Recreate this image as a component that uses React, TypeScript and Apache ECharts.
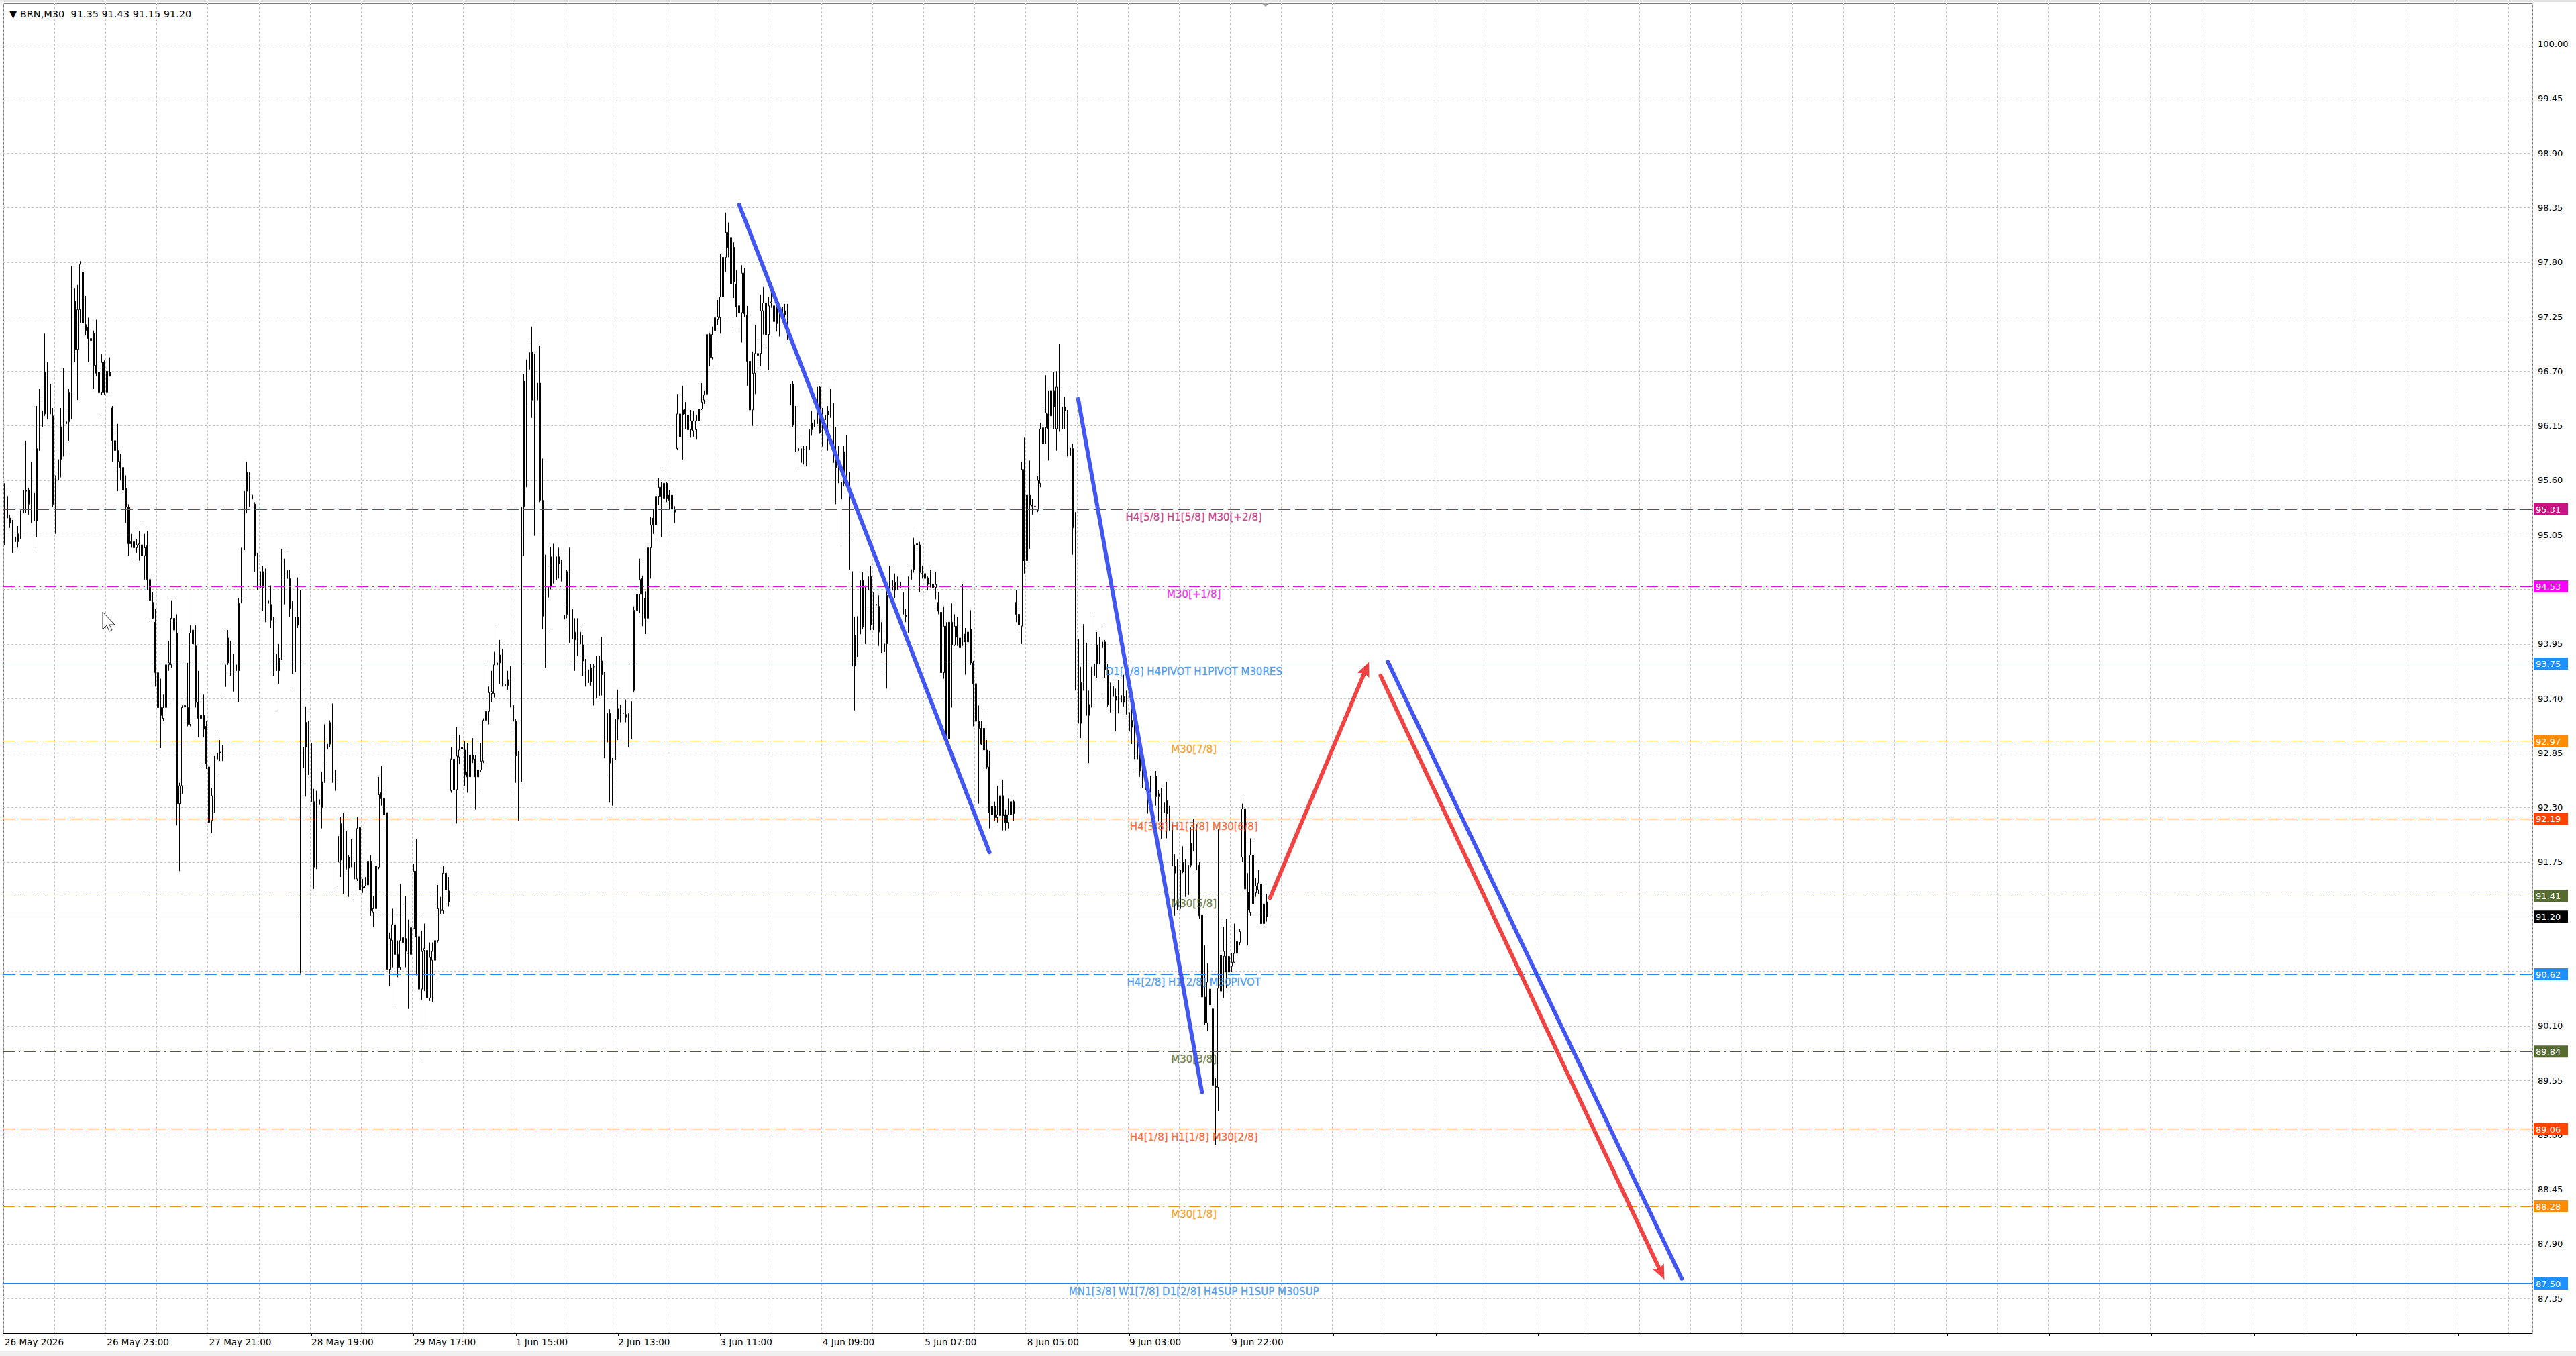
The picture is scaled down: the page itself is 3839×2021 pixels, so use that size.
import { useEffect, useRef } from 'react';
import * as echarts from 'echarts';

const FONT = 'DejaVu Sans';

// ---- header ----
const symbolName = 'BRN';
const timeframe = 'M30';
const headerOHLC = [91.35, 91.43, 91.15, 91.2];

// ---- candles [open, close, low, high], M30 bars ----
// 26 May - 27 May
const part1 = [
  [95.50, 95.05, 94.95, 95.57], [95.44, 95.22, 95.14, 95.49], [95.22, 95.17, 95.12, 95.25], [95.19, 95.03, 94.87, 95.20],
  [95.03, 94.98, 94.90, 95.06], [94.98, 95.06, 94.92, 95.14], [95.09, 95.27, 95.01, 95.30], [95.27, 95.50, 95.25, 95.60],
  [95.50, 95.49, 95.27, 96.00], [95.36, 95.50, 95.25, 95.52], [95.50, 95.36, 95.17, 95.79], [95.47, 95.19, 94.92, 95.55],
  [95.19, 95.92, 95.03, 96.35], [95.90, 96.14, 95.90, 96.52], [96.14, 96.30, 96.03, 96.41], [96.27, 96.69, 96.25, 97.08],
  [96.65, 96.54, 96.22, 96.79], [96.57, 96.27, 96.14, 96.62], [96.25, 95.36, 95.33, 96.33], [95.36, 95.63, 95.06, 95.65],
  [95.60, 95.81, 95.52, 95.92], [95.81, 96.14, 95.63, 96.33], [96.14, 96.17, 95.84, 96.73], [96.17, 96.19, 95.87, 96.30],
  [96.19, 96.49, 96.00, 96.52], [96.49, 97.41, 96.22, 97.76], [97.41, 96.92, 96.79, 97.54], [96.92, 97.32, 96.41, 97.57],
  [97.32, 97.78, 97.19, 97.81], [97.70, 97.19, 97.16, 97.76], [97.17, 97.11, 97.06, 97.46], [97.14, 97.03, 96.79, 97.24],
  [97.03, 97.01, 96.97, 97.19], [97.08, 96.76, 96.52, 97.11], [96.76, 96.68, 96.65, 97.22], [96.69, 96.49, 96.25, 96.73],
  [96.49, 96.79, 96.46, 96.87], [96.79, 96.49, 96.46, 96.81], [96.49, 96.70, 96.19, 96.73], [96.69, 96.65, 96.65, 96.84],
  [96.33, 96.00, 95.79, 96.35], [96.00, 95.90, 95.71, 96.08], [95.90, 95.79, 95.49, 96.17], [95.79, 95.73, 95.60, 95.87],
  [95.73, 95.50, 95.49, 95.76], [95.52, 95.33, 95.17, 95.65], [95.33, 94.96, 94.84, 95.36], [94.98, 94.96, 94.92, 95.06],
  [94.98, 94.92, 94.79, 95.03], [94.92, 94.95, 94.87, 95.01], [94.95, 94.96, 94.79, 95.09], [94.95, 94.84, 94.82, 95.19],
  [94.84, 94.92, 94.60, 95.06], [94.94, 94.60, 94.49, 95.09], [94.60, 94.39, 94.17, 94.63], [94.37, 94.21, 94.20, 94.47],
  [94.17, 93.66, 93.52, 94.30], [93.66, 93.31, 92.79, 93.87], [93.31, 93.23, 92.90, 93.60], [93.20, 93.31, 93.17, 93.44],
  [93.31, 93.74, 93.28, 93.76], [93.74, 93.76, 93.68, 93.98], [93.74, 94.21, 93.71, 94.39], [94.09, 94.21, 93.98, 94.41],
  [94.06, 92.34, 92.12, 94.25], [92.34, 92.52, 91.66, 92.55], [92.52, 93.31, 92.44, 93.33], [93.32, 93.33, 93.17, 93.41],
  [93.31, 93.14, 93.12, 93.76], [93.14, 94.06, 93.12, 94.14], [94.09, 93.95, 93.90, 94.52], [93.93, 93.36, 93.31, 94.14],
  [93.36, 93.20, 93.01, 93.68], [93.23, 93.20, 92.71, 93.36], [93.23, 93.09, 93.01, 93.44], [93.12, 92.74, 92.69, 93.17],
  [92.71, 92.15, 92.01, 92.79], [92.17, 92.42, 92.04, 92.50], [92.39, 92.79, 92.25, 92.82], [92.79, 92.85, 92.63, 93.04],
  [92.85, 92.86, 92.77, 92.98], [92.87, 92.89, 92.77, 92.93],
];
// 28 May - 29 May
const part2 = [
  [93.52, 93.74, 93.41, 94.09], [94.01, 93.76, 93.74, 94.09], [93.95, 93.66, 93.63, 93.98], [93.66, 93.68, 93.47, 93.85],
  [93.68, 93.74, 93.47, 93.85], [93.68, 94.36, 93.36, 94.41], [94.39, 94.90, 94.36, 94.92], [94.90, 95.49, 94.87, 95.55],
  [95.49, 95.68, 95.27, 95.79], [95.65, 95.49, 95.33, 95.68], [95.45, 95.41, 95.33, 95.46], [95.36, 94.84, 94.68, 95.38],
  [94.84, 94.52, 94.49, 94.87], [94.68, 94.52, 94.20, 94.79], [94.52, 94.68, 94.28, 94.74], [94.68, 94.36, 94.17, 94.71],
  [94.36, 94.39, 94.25, 94.54], [94.35, 94.19, 94.11, 94.54], [94.21, 93.85, 93.63, 94.22], [93.85, 93.68, 93.28, 93.92],
  [93.68, 93.81, 93.55, 93.95], [93.81, 94.60, 93.79, 94.91], [94.60, 94.68, 94.35, 94.81], [94.69, 94.61, 94.54, 94.89],
  [94.61, 94.31, 94.22, 94.70], [94.31, 93.69, 93.65, 94.38], [93.67, 94.22, 93.49, 94.25], [94.22, 94.14, 94.11, 94.62],
  [94.11, 92.67, 90.63, 94.49], [92.70, 92.91, 92.40, 93.49], [92.91, 93.16, 92.41, 93.32], [93.14, 92.95, 92.63, 93.17],
  [92.95, 92.36, 92.01, 93.28], [92.36, 91.70, 91.48, 92.49], [91.70, 92.39, 91.68, 92.47], [92.38, 92.33, 92.25, 92.41],
  [92.30, 92.56, 92.09, 92.66], [92.56, 92.89, 92.55, 93.14], [92.89, 92.94, 92.75, 93.00], [92.94, 93.16, 92.91, 93.18],
  [93.11, 92.57, 92.55, 93.35], [92.57, 92.61, 92.47, 92.68],
  [92.01, 91.75, 91.50, 92.27], [91.77, 92.14, 91.60, 92.21], [92.09, 92.09, 91.43, 92.25], [92.06, 91.68, 91.67, 92.24],
  [91.69, 91.80, 91.40, 91.82], [91.82, 91.75, 91.70, 91.98], [91.75, 91.58, 91.37, 91.82], [91.58, 92.09, 91.56, 92.21],
  [92.10, 91.47, 91.21, 92.12], [91.50, 91.49, 91.44, 91.58], [91.49, 91.51, 91.49, 91.60], [91.52, 91.76, 91.32, 91.89],
  [91.76, 91.26, 91.21, 91.82], [91.24, 91.28, 91.10, 91.41], [91.28, 91.71, 91.19, 91.76], [91.70, 92.43, 91.68, 92.61],
  [92.45, 92.39, 92.32, 92.72], [92.39, 92.23, 92.06, 92.54], [92.25, 90.67, 90.51, 92.27], [90.67, 90.98, 90.50, 91.04],
  [90.96, 91.12, 90.69, 91.28], [91.12, 90.82, 90.31, 91.21], [90.82, 90.69, 90.59, 90.96], [90.69, 90.96, 90.66, 91.53],
  [90.94, 90.99, 90.85, 91.31], [90.98, 90.85, 90.69, 91.41], [90.83, 90.83, 90.27, 91.17], [90.82, 91.09, 90.63, 91.16],
  [91.08, 91.66, 91.08, 91.73], [91.66, 91.00, 90.61, 91.98], [91.00, 90.47, 89.77, 91.20], [90.47, 90.85, 90.36, 91.06],
  [90.86, 90.88, 90.45, 91.13], [90.86, 90.38, 90.09, 90.88], [90.38, 90.79, 90.35, 90.94], [90.76, 90.85, 90.34, 90.94],
  [90.76, 90.96, 90.58, 91.31], [90.96, 91.28, 90.94, 91.52], [91.27, 91.26, 91.23, 91.40], [91.26, 91.64, 91.23, 91.71],
  [91.64, 91.47, 91.33, 91.73], [91.46, 91.35, 91.30, 91.60],
];
// 1 Jun - 3 Jun
const part3 = [
  [92.47, 92.79, 92.45, 92.91], [92.79, 92.48, 92.13, 93.01], [92.48, 92.82, 92.14, 93.11], [92.81, 92.88, 92.74, 93.03],
  [92.89, 92.91, 92.85, 93.09], [92.88, 92.63, 92.52, 92.97], [92.66, 92.61, 92.45, 92.95], [92.61, 92.83, 92.30, 92.94],
  [92.83, 92.79, 92.75, 93.00], [92.79, 92.61, 92.28, 92.83], [92.61, 92.68, 92.45, 92.75], [92.68, 92.77, 92.66, 92.95],
  [92.77, 93.18, 92.75, 93.20], [93.18, 93.27, 93.14, 93.78], [93.27, 93.46, 93.14, 93.52], [93.45, 93.47, 93.36, 93.68],
  [93.45, 93.74, 93.41, 93.87], [93.74, 93.76, 93.68, 94.14], [93.76, 93.84, 93.55, 93.99], [93.87, 93.54, 93.52, 93.90],
  [93.54, 93.53, 93.38, 93.73], [93.53, 93.59, 93.49, 93.68], [93.60, 93.33, 93.31, 93.73], [93.33, 93.17, 93.06, 93.41],
  [93.17, 92.82, 92.55, 93.19], [92.83, 92.56, 92.17, 92.87],
  [92.56, 95.33, 92.49, 95.51], [95.33, 96.60, 94.84, 96.67], [96.62, 96.71, 95.53, 96.82], [96.72, 96.89, 96.34, 97.01],
  [96.89, 96.41, 96.23, 97.15], [96.42, 96.42, 95.04, 96.88], [96.41, 96.58, 96.15, 96.99], [96.58, 95.40, 95.38, 96.96],
  [95.40, 94.23, 94.10, 95.82], [94.23, 94.45, 93.71, 94.85], [94.42, 94.53, 94.07, 94.72], [94.53, 94.83, 94.50, 94.93],
  [94.83, 94.58, 94.56, 94.96], [94.83, 94.60, 94.53, 94.93], [94.83, 94.76, 94.61, 94.92], [94.74, 94.73, 94.58, 94.80],
  [94.20, 94.24, 94.12, 94.34], [94.25, 94.68, 94.21, 94.70], [94.69, 94.32, 93.96, 94.92], [94.30, 94.00, 93.75, 94.31],
  [94.07, 93.99, 93.68, 94.21], [94.00, 94.03, 93.83, 94.21], [94.07, 93.95, 93.82, 94.13], [93.94, 93.78, 93.63, 94.04],
  [93.78, 93.68, 93.52, 93.80], [93.69, 93.56, 93.55, 93.75], [93.57, 93.71, 93.53, 93.75], [93.72, 93.72, 93.33, 93.75],
  [93.42, 93.79, 93.40, 93.83], [93.83, 93.43, 93.40, 93.95], [93.78, 93.64, 93.43, 94.02], [93.64, 92.99, 92.80, 93.67],
  [93.25, 92.96, 92.62, 93.40], [93.25, 92.75, 92.35, 93.29], [92.79, 92.76, 92.32, 92.80], [92.78, 93.19, 92.74, 93.22],
  [93.19, 93.30, 92.98, 93.49], [93.24, 93.30, 93.16, 93.34], [93.25, 93.25, 92.94, 93.40], [93.24, 93.21, 93.16, 93.39],
  [93.21, 92.99, 92.91, 93.25], [92.99, 93.37, 92.99, 93.75], [93.48, 94.29, 93.46, 94.33], [94.29, 94.45, 94.29, 94.54],
  [94.45, 94.60, 94.26, 94.81], [94.61, 94.45, 94.13, 94.64], [94.41, 94.21, 94.05, 94.48], [94.21, 94.92, 94.20, 94.93],
  [94.92, 95.15, 94.61, 95.23], [95.22, 95.15, 95.06, 95.31], [95.15, 95.44, 95.01, 95.46], [95.44, 95.53, 95.35, 95.62],
  [95.53, 95.44, 95.03, 95.58], [95.42, 95.57, 95.39, 95.72], [95.57, 95.42, 95.38, 95.58], [95.45, 95.40, 95.31, 95.50],
  [95.45, 95.31, 95.29, 95.48], [95.30, 95.28, 95.17, 95.34],
  [95.92, 96.27, 95.91, 96.47], [96.04, 96.27, 96.01, 96.46], [96.31, 96.26, 95.81, 96.55], [96.32, 96.27, 96.12, 96.39],
  [96.26, 96.11, 96.01, 96.28], [96.11, 96.20, 96.03, 96.31], [96.10, 96.20, 96.04, 96.30], [96.11, 96.20, 96.01, 96.26],
  [96.20, 96.32, 96.19, 96.42], [96.32, 96.39, 96.31, 96.58], [96.41, 96.46, 96.37, 96.50], [96.47, 97.07, 96.42, 97.08],
  [97.07, 96.84, 96.75, 97.09], [96.84, 97.07, 96.82, 97.15], [97.11, 97.24, 96.95, 97.27], [97.22, 97.25, 97.17, 97.42],
  [97.24, 97.45, 97.08, 97.88], [97.45, 97.85, 97.42, 97.95], [97.85, 98.10, 97.70, 98.30], [98.10, 97.95, 97.85, 98.20],
  [98.05, 97.58, 97.12, 98.10], [97.95, 97.60, 97.44, 98.00], [97.58, 97.35, 97.25, 97.72], [97.36, 97.29, 97.13, 97.52],
  [97.29, 97.69, 96.99, 97.77], [97.69, 97.28, 97.25, 97.74], [97.27, 96.80, 96.55, 97.36], [96.80, 96.31, 96.28, 96.88],
  [96.31, 96.68, 96.15, 96.90], [96.68, 96.88, 96.47, 97.17], [96.86, 96.88, 96.77, 97.01], [96.88, 97.31, 96.75, 97.47],
  [97.31, 97.39, 97.07, 97.55], [97.39, 97.07, 96.96, 97.40], [97.07, 97.36, 96.71, 97.45], [97.39, 97.40, 97.34, 97.58],
  [97.20, 97.36, 97.17, 97.55], [97.36, 97.18, 97.10, 97.40], [97.18, 97.30, 97.05, 97.35], [97.35, 97.27, 97.20, 97.40],
  [97.27, 97.31, 97.22, 97.38], [97.24, 97.34, 97.02, 97.38],
];
// 4 Jun - 5 Jun
const part4 = [
  [96.36, 96.57, 96.25, 96.65], [96.57, 96.16, 96.14, 96.60], [96.21, 95.91, 95.89, 96.35], [95.92, 95.90, 95.69, 96.03],
  [95.78, 95.92, 95.76, 96.03], [95.91, 95.91, 95.76, 95.95], [95.78, 95.91, 95.74, 95.95], [95.91, 96.11, 95.88, 96.44],
  [96.11, 96.18, 96.05, 96.30], [96.18, 96.17, 96.14, 96.21], [96.17, 96.54, 96.16, 96.55], [96.54, 96.08, 96.07, 96.55],
  [96.08, 96.25, 95.94, 96.33], [96.21, 96.26, 96.03, 96.33], [96.26, 96.30, 95.90, 96.35], [96.28, 96.38, 96.23, 96.52],
  [96.38, 95.78, 95.76, 96.62], [95.81, 95.73, 95.36, 96.14], [95.73, 95.58, 95.57, 95.95], [95.58, 95.41, 94.94, 95.63],
  [95.57, 95.89, 95.54, 95.95], [95.65, 95.89, 95.63, 96.06], [95.68, 94.70, 94.56, 95.71], [94.68, 93.73, 93.68, 94.98],
  [93.73, 94.04, 93.28, 94.22], [94.04, 94.07, 93.82, 94.23], [94.05, 94.59, 93.98, 94.68], [94.59, 94.12, 94.10, 94.68],
  [94.11, 94.49, 93.95, 94.54], [94.49, 94.63, 94.28, 94.68], [94.63, 94.14, 94.09, 94.74], [94.14, 94.36, 94.09, 94.47],
  [94.35, 94.34, 94.28, 94.41], [94.33, 94.07, 93.93, 94.44], [94.07, 93.95, 93.86, 94.17], [93.87, 93.95, 93.64, 94.10],
  [93.95, 94.44, 93.50, 94.50], [94.45, 94.59, 94.41, 94.74], [94.59, 94.49, 94.44, 94.71], [94.49, 94.57, 94.41, 94.66],
  [94.57, 94.57, 94.49, 94.63], [94.57, 94.52, 94.49, 94.60], [94.47, 94.25, 94.20, 94.54], [94.24, 94.23, 94.17, 94.30],
  [94.22, 94.60, 94.06, 94.63], [94.60, 94.70, 94.52, 94.72], [94.70, 94.95, 94.67, 95.02], [94.95, 94.96, 94.91, 95.10],
  [94.95, 94.67, 94.47, 94.98], [94.66, 94.66, 94.61, 94.74], [94.61, 94.66, 94.45, 94.68], [94.61, 94.55, 94.49, 94.63],
  [94.56, 94.56, 94.52, 94.70], [94.55, 94.52, 94.49, 94.74], [94.52, 94.55, 94.40, 94.68], [94.37, 94.28, 94.25, 94.47],
  [94.27, 93.66, 93.64, 94.28], [93.66, 94.13, 93.60, 94.33], [94.13, 92.99, 92.98, 94.17], [92.99, 94.17, 92.98, 94.33],
  [94.17, 93.94, 93.31, 94.36], [93.94, 94.13, 93.93, 94.25], [94.13, 94.02, 93.93, 94.22], [93.91, 94.01, 93.90, 94.14],
  [94.02, 94.02, 93.93, 94.55], [94.05, 93.97, 93.64, 94.11], [93.97, 94.07, 93.93, 94.11], [94.10, 93.76, 93.74, 94.29],
  [93.76, 93.55, 93.12, 93.78], [93.55, 93.17, 93.14, 93.60], [93.17, 93.10, 92.34, 93.33], [93.10, 92.94, 92.93, 93.17],
  [93.10, 92.88, 92.86, 93.26], [92.88, 92.71, 92.69, 92.98], [92.71, 92.25, 92.09, 92.87], [92.23, 92.31, 92.00, 92.33],
  [92.31, 92.20, 92.17, 92.36], [92.20, 92.23, 92.15, 92.52], [92.22, 92.42, 92.20, 92.50], [92.42, 92.22, 92.07, 92.58],
  [92.23, 92.15, 92.07, 92.28], [92.15, 92.23, 92.09, 92.39], [92.23, 92.36, 92.20, 92.42], [92.36, 92.24, 92.17, 92.38],
];
// 8 Jun - 9 Jun
const part5 = [
  [94.37, 94.25, 94.17, 94.49], [94.25, 94.14, 94.06, 94.28], [94.13, 95.71, 93.95, 95.79], [95.71, 94.79, 94.66, 96.03],
  [94.79, 95.45, 94.74, 95.57], [95.45, 95.35, 94.91, 95.80], [95.35, 95.34, 95.25, 95.41], [95.34, 95.34, 95.09, 95.52],
  [95.30, 95.60, 95.28, 95.64], [95.57, 96.12, 95.53, 96.18], [95.97, 96.13, 95.82, 96.36], [96.13, 96.28, 95.97, 96.66],
  [96.27, 96.12, 95.80, 96.50], [96.25, 96.50, 96.20, 96.66], [96.50, 96.34, 96.12, 96.69], [96.12, 96.54, 95.90, 96.70],
  [96.54, 96.13, 96.09, 96.98], [96.12, 96.34, 95.88, 96.69], [96.30, 96.34, 96.12, 96.44], [96.27, 95.85, 95.84, 96.31],
  [95.85, 95.93, 95.42, 96.52], [95.92, 95.12, 94.85, 95.97], [95.10, 93.53, 93.48, 95.28], [94.00, 93.15, 93.02, 94.07],
  [93.15, 93.56, 93.00, 93.72], [93.56, 93.93, 93.48, 94.15], [93.96, 93.23, 93.02, 93.96], [93.23, 93.34, 92.75, 93.48],
  [93.34, 93.63, 93.31, 93.72], [93.63, 93.75, 93.48, 94.26], [93.75, 93.94, 93.61, 94.07], [93.94, 93.93, 93.75, 94.02],
  [93.91, 93.97, 93.42, 94.15], [93.97, 93.69, 93.61, 93.99], [93.69, 93.34, 93.32, 93.75], [93.34, 93.53, 93.26, 93.56],
  [93.52, 93.42, 93.26, 93.61], [93.42, 93.38, 93.07, 93.50], [93.38, 93.43, 93.25, 93.59], [93.43, 93.36, 93.29, 93.48],
  [93.36, 93.42, 93.32, 93.64], [93.39, 93.26, 93.24, 93.48], [93.26, 93.07, 93.06, 93.45], [93.18, 93.11, 92.94, 93.32],
  [93.16, 92.83, 92.79, 93.23], [92.79, 93.05, 92.67, 93.10], [93.00, 92.67, 92.61, 93.02], [92.68, 92.57, 92.50, 92.72],
  [92.57, 92.48, 92.46, 92.59], [92.47, 92.46, 92.24, 92.51], [92.46, 92.60, 92.45, 92.62], [92.60, 92.60, 92.34, 92.69],
  [92.62, 92.41, 92.32, 92.67], [92.41, 92.44, 92.16, 92.48], [92.44, 92.25, 91.98, 92.50], [92.25, 92.35, 92.07, 92.46],
  [92.37, 92.24, 91.99, 92.56], [92.24, 92.10, 92.07, 92.32], [92.13, 91.71, 91.69, 92.16], [91.71, 91.64, 91.21, 91.83],
  [91.67, 91.28, 91.27, 91.78], [91.28, 91.67, 91.20, 91.70], [91.65, 91.75, 91.64, 91.91], [91.75, 91.42, 91.40, 91.78],
  [91.42, 91.72, 91.37, 91.86], [91.72, 91.94, 91.70, 92.10], [91.92, 92.13, 91.86, 92.19], [92.13, 91.67, 91.64, 92.19],
  [91.72, 91.21, 91.18, 91.75], [91.22, 90.39, 90.38, 91.27], [90.39, 90.13, 90.11, 90.91], [90.13, 90.54, 90.05, 90.73],
  [90.47, 90.31, 90.05, 90.48], [90.27, 89.50, 89.46, 90.40], [89.49, 89.48, 88.90, 89.57], [89.48, 90.48, 89.24, 92.08],
  [90.45, 90.81, 90.35, 91.16], [90.80, 90.85, 90.38, 91.10], [90.80, 90.64, 90.48, 91.18], [90.64, 90.80, 90.62, 90.94],
  [90.70, 90.74, 90.64, 90.83], [90.74, 90.83, 90.73, 91.13], [90.83, 90.95, 90.78, 91.05], [90.94, 91.05, 90.91, 91.08],
  [91.80, 92.29, 91.75, 92.34], [92.29, 91.48, 91.43, 92.43], [91.45, 91.27, 90.91, 91.64], [91.24, 91.82, 91.21, 91.99],
  [91.82, 91.33, 91.32, 91.98], [91.44, 91.51, 91.40, 91.59], [91.47, 91.54, 91.43, 91.67], [91.53, 91.13, 91.10, 91.55],
  [91.13, 91.33, 91.10, 91.35], [91.35, 91.20, 91.15, 91.43],
];
const candles = [...part1, ...part2, ...part3, ...part4, ...part5];

// ---- axes ----
const TOTAL_SLOTS = 940; // bar slots across the plot (history + empty future area)
const LABEL_EVERY = 38;
const GRID_EVERY = 19;
const xLabels = [
  '26 May 2026', '26 May 23:00', '27 May 21:00', '28 May 19:00', '29 May 17:00', '1 Jun 15:00',
  '2 Jun 13:00', '3 Jun 11:00', '4 Jun 09:00', '5 Jun 07:00', '8 Jun 05:00', '9 Jun 03:00', '9 Jun 22:00',
];
const yTicks = [
  87.35, 87.9, 88.45, 89.0, 89.55, 90.1, 90.65, 91.2, 91.75, 92.3, 92.85, 93.4,
  93.95, 94.5, 95.05, 95.6, 96.15, 96.7, 97.25, 97.8, 98.35, 98.9, 99.45, 100.0,
];
const yMin = 87.0;
const yMax = 100.41;

// ---- Murrey levels ----
const levelValues = [95.31, 94.53, 93.75, 92.97, 92.19, 91.41, 90.62, 89.84, 89.06, 88.28, 87.5];
const levelNames = [
  'H4[5/8] H1[5/8] M30[+2/8]', 'M30[+1/8]', 'D1[3/8] H4PIVOT H1PIVOT M30RES', 'M30[7/8]',
  'H4[3/8] H1[3/8] M30[6/8]', 'M30[5/8]', 'H4[2/8] H1[2/8] M30PIVOT', 'M30[3/8]',
  'H4[1/8] H1[1/8] M30[2/8]', 'M30[1/8]', 'MN1[3/8] W1[7/8] D1[2/8] H4SUP H1SUP M30SUP',
];
const levelDash = ['dash', 'dashdot', 'solid', 'dashdot', 'dash', 'dashdot', 'dash', 'dashdot', 'dash', 'dashdot', 'solid'];
const levelLineColors = ['#B0246F', '#D916D9', '#3A8AD6', '#E0961E', '#E8501A', '#4F6328', '#2A8AF0', '#4F6328', '#E8501A', '#E0961E', '#1E86F0'];
const levelTextColors = ['#B81F74', '#E018E0', '#2F8CEB', '#F0940F', '#F2501A', '#556B2F', '#2F8CEB', '#556B2F', '#F2501A', '#F0940F', '#2F8CEB'];
const levelTagColors = ['#C71585', '#FF00FF', '#1E90FF', '#FF8C00', '#FF4500', '#556B2F', '#1E90FF', '#556B2F', '#FF4500', '#FF8C00', '#1E90FF'];
const levelWidths = [1, 1, 1, 1, 1, 1, 1, 1, 1, 1, 2];
const lastPrice = 91.2;
const labelAnchorBar = 442;

// ---- drawn objects: [bar1, price1, bar2, price2, arrowHead(0/1), colour(0 blue / 1 red)] ----
const drawnLines = [
  [273, 98.38, 366, 91.85, 0, 0],
  [399, 96.42, 445, 89.43, 0, 0],
  [470.3, 91.39, 507.1, 93.77, 1, 1],
  [511.4, 93.63, 616.9, 87.54, 1, 1],
  [514.1, 93.77, 623.3, 87.55, 0, 0],
];
const drawColors = ['#4257F2', '#F04343'];

const dashOf = (t: string) => (t === 'dash' ? [18, 7] : t === 'dashdot' ? [17, 6, 2, 6] : 'solid');

export default function App() {
  const ref = useRef<HTMLDivElement>(null);

  useEffect(() => {
    if (!ref.current) return;
    const chart = echarts.init(ref.current, undefined, { renderer: 'svg' });

    const categories = Array.from({ length: TOTAL_SLOTS }, (_, i) => String(i));
    const tagValues = [...levelValues, lastPrice];
    const tagColors = [...levelTagColors, '#000000'];
    const rich: Record<string, any> = {};
    tagColors.forEach((c, k) => {
      rich['t' + k] = {
        backgroundColor: c, color: '#fff', fontSize: 13, fontFamily: FONT,
        padding: [3, 4, 2, 3], width: 44, lineHeight: 15,
      };
    });

    const markData: any[] = levelValues.map((v, k) => ({
      yAxis: v,
      lineStyle: { color: levelLineColors[k], width: levelWidths[k], type: dashOf(levelDash[k]), opacity: 1 },
    }));
    markData.push({ yAxis: lastPrice, lineStyle: { color: '#BDBDBD', width: 1, type: 'solid', opacity: 1 } });

    const option: any = {
      animation: false,
      backgroundColor: '#fff',
      textStyle: { fontFamily: FONT },
      title: {
        text: `\u25BC ${symbolName},${timeframe}  ${headerOHLC.map((v) => v.toFixed(2)).join(' ')}`,
        left: 9, top: 8,
        textStyle: { fontSize: 14.5, fontWeight: 'normal', color: '#000', fontFamily: FONT },
      },
      grid: {
        left: 5, top: 5, right: 65, bottom: 34, show: true,
        borderColor: '#000', borderWidth: 1, backgroundColor: '#fff',
      },
      xAxis: [
        {
          type: 'category', data: categories, boundaryGap: true,
          axisLine: { show: true, lineStyle: { color: '#000', width: 1 } },
          axisTick: { show: true, interval: LABEL_EVERY - 1, alignWithLabel: true, length: 4, lineStyle: { color: '#000' } },
          axisLabel: {
            interval: LABEL_EVERY - 1, align: 'left', margin: 6, color: '#000', fontSize: 13.5, fontFamily: FONT,
            formatter: (_v: string, i: number) => (i % LABEL_EVERY === 0 ? xLabels[i / LABEL_EVERY] ?? '' : ''),
          },
          splitLine: { show: true, interval: GRID_EVERY - 1, lineStyle: { color: '#C4C4C4', type: [3, 3], width: 1 } },
        },
        { type: 'value', min: -0.5, max: TOTAL_SLOTS - 0.5, show: false },
      ],
      yAxis: [
        {
          type: 'value', position: 'right', min: yMin, max: yMax,
          axisLine: { show: true, lineStyle: { color: '#000', width: 1 } },
          axisTick: { show: false, customValues: yTicks },
          axisLabel: {
            customValues: yTicks, margin: 8, color: '#000', fontSize: 13, fontFamily: FONT,
            formatter: (v: number) => v.toFixed(2),
          },
          splitLine: { show: true, lineStyle: { color: '#C4C4C4', type: [3, 3], width: 1 } },
        },
        {
          type: 'value', position: 'right', min: yMin, max: yMax,
          axisLine: { show: false }, splitLine: { show: false },
          axisTick: { show: false, customValues: tagValues },
          axisLabel: {
            customValues: tagValues, margin: 2, rich,
            formatter: (v: number) => {
              const k = tagValues.findIndex((t) => Math.abs(t - v) < 1e-6);
              return `{t${k}|${v.toFixed(2)}}`;
            },
          },
        },
      ],
      series: [
        {
          type: 'candlestick', xAxisIndex: 0, yAxisIndex: 0, data: candles, barWidth: 2, z: 2,
          itemStyle: {
            color: '#ffffff', color0: '#000000', borderColor: '#000000', borderColor0: '#000000',
            borderColorDoji: '#000000', borderWidth: 1,
          },
          markLine: { silent: true, symbol: ['none', 'none'], label: { show: false }, data: markData, animation: false },
        },
        {
          type: 'scatter', xAxisIndex: 1, yAxisIndex: 0, symbolSize: 1, silent: true, z: 6,
          itemStyle: { color: 'rgba(0,0,0,0)' },
          data: levelValues.map((v, k) => ({
            value: [labelAnchorBar, v],
            label: {
              show: true, position: 'bottom', distance: 4, formatter: levelNames[k],
              color: levelTextColors[k], fontSize: 15, fontFamily: FONT,
              textBorderColor: levelTextColors[k], textBorderWidth: 0.4,
            },
          })),
        },
        {
          type: 'custom', xAxisIndex: 1, yAxisIndex: 0, z: 8, silent: true, clip: false,
          encode: { x: [0, 2], y: [1, 3] },
          data: drawnLines,
          renderItem: (_params: any, api: any) => {
            const p1 = api.coord([api.value(0), api.value(1)]);
            const p2 = api.coord([api.value(2), api.value(3)]);
            const color = drawColors[api.value(5)];
            const dx = p2[0] - p1[0];
            const dy = p2[1] - p1[1];
            const len = Math.hypot(dx, dy);
            const ux = dx / len;
            const uy = dy / len;
            const children: any[] = [];
            let end = p2;
            if (api.value(4)) {
              const headLen = 22;
              const half = 9.5;
              const notch = 4;
              const bx = p2[0] - ux * headLen;
              const by = p2[1] - uy * headLen;
              end = [p2[0] - ux * (headLen - 4), p2[1] - uy * (headLen - 4)];
              children.push({
                type: 'polygon',
                shape: {
                  points: [
                    [p2[0], p2[1]],
                    [bx - uy * half, by + ux * half],
                    [p2[0] - ux * (headLen - notch), p2[1] - uy * (headLen - notch)],
                    [bx + uy * half, by - ux * half],
                  ],
                },
                style: { fill: color },
                z2: 2,
              });
            }
            children.unshift({
              type: 'line',
              shape: { x1: p1[0], y1: p1[1], x2: end[0], y2: end[1] },
              style: { stroke: color, lineWidth: 6, lineCap: 'round' },
              z2: 1,
            });
            return { type: 'group', children };
          },
        },
      ],
      graphic: [
        { type: 'rect', left: 0, top: 0, shape: { width: 3839, height: 3 }, style: { fill: '#E4E4E4' }, silent: true },
        { type: 'rect', left: 0, bottom: 0, shape: { width: 3839, height: 8 }, style: { fill: '#EFEFEF' }, silent: true },
        { type: 'polygon', shape: { points: [[1880, 5], [1892, 5], [1886, 10]] }, style: { fill: '#A0A0A0' }, silent: true },
        {
          type: 'polygon', silent: true, z: 20,
          shape: { points: [[153, 912], [153, 938], [159, 932], [163, 941], [167, 939], [163, 931], [171, 931]] },
          style: { fill: '#fff', stroke: '#333', lineWidth: 1 },
        },
      ],
    };

    chart.setOption(option);
    const onResize = () => chart.resize();
    window.addEventListener('resize', onResize);
    return () => {
      window.removeEventListener('resize', onResize);
      chart.dispose();
    };
  }, []);

  return <div ref={ref} style={{ position: 'fixed', left: 0, top: 0, width: '100vw', height: '100vh', background: '#fff' }} />;
}
